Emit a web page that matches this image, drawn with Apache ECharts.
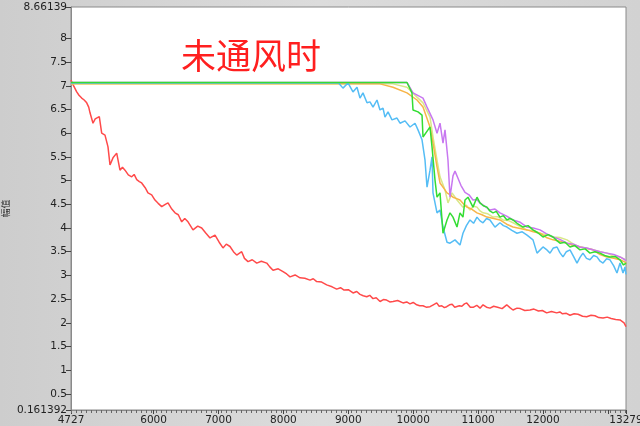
<!DOCTYPE html>
<html><head><meta charset="utf-8">
<script src="https://cdn.jsdelivr.net/npm/echarts@6/dist/echarts.min.js"></script>
<style>html,body{margin:0;padding:0;background:#d4d4d4}#c{width:640px;height:426px}</style>
</head><body><div id="c"></div>
<script>
var titleText = '未通风时';
var yName = '幅值';
var yTicks = [0.161392, 0.5, 1, 1.5, 2, 2.5, 3, 3.5, 4, 4.5, 5, 5.5, 6, 6.5, 7, 7.5, 8, 8.66139];
var xTicks = [4727, 6000, 7000, 8000, 9000, 10000, 11000, 12000, 13000, 13279];
var xLabels = [4727, 6000, 7000, 8000, 9000, 10000, 11000, 12000, 13279];

var redX = [4727,4760,4815,4850,4892,4930,4969,5000,5020,5066,5100,5123,5163,5200,5251,5297,5328,5374,5431,5482,5520,5559,5610,5662,5700,5740,5780,5816,5870,5913,5970,6021,6070,6125,6180,6222,6280,6330,6380,6433,6480,6530,6607,6680,6741,6800,6869,6946,7010,7069,7120,7177,7230,7280,7357,7400,7455,7520,7589,7660,7743,7790,7840,7920,7994,8050,8102,8180,8256,8330,8410,8460,8513,8590,8667,8750,8821,8880,8935,9000,9073,9130,9180,9230,9284,9330,9380,9430,9489,9540,9590,9640,9689,9760,9843,9900,9950,10000,10054,10100,10150,10200,10259,10310,10362,10400,10440,10480,10516,10560,10600,10640,10670,10710,10750,10790,10825,10880,10930,10980,11030,11076,11130,11184,11240,11300,11370,11441,11490,11538,11600,11650,11720,11800,11860,11930,11990,12057,12130,12211,12260,12300,12360,12416,12480,12540,12610,12673,12740,12800,12860,12925,12990,13050,13120,13187,13249,13279];
var redY = [7.12,7.02,6.87,6.80,6.74,6.70,6.64,6.55,6.43,6.21,6.30,6.28,6.35,6.00,5.96,5.71,5.33,5.48,5.58,5.22,5.28,5.22,5.12,5.08,5.13,5.02,4.98,4.95,4.85,4.74,4.70,4.59,4.52,4.45,4.50,4.53,4.40,4.32,4.28,4.13,4.20,4.13,3.96,4.04,4.00,3.90,3.79,3.85,3.70,3.58,3.66,3.61,3.50,3.43,3.50,3.36,3.29,3.33,3.26,3.30,3.26,3.18,3.11,3.14,3.08,3.03,2.97,3.01,2.95,2.94,2.90,2.93,2.87,2.86,2.80,2.76,2.71,2.74,2.69,2.70,2.63,2.66,2.60,2.57,2.55,2.58,2.51,2.53,2.45,2.49,2.48,2.44,2.45,2.47,2.42,2.44,2.40,2.43,2.38,2.36,2.36,2.33,2.34,2.38,2.42,2.35,2.36,2.32,2.34,2.38,2.39,2.33,2.31,2.36,2.35,2.40,2.42,2.33,2.33,2.37,2.31,2.38,2.33,2.31,2.35,2.33,2.30,2.38,2.32,2.27,2.31,2.30,2.26,2.27,2.29,2.25,2.26,2.21,2.24,2.21,2.23,2.19,2.20,2.16,2.19,2.18,2.14,2.13,2.16,2.15,2.11,2.10,2.12,2.09,2.07,2.06,2.00,1.92];

var blueX = [4727,8850,8918,8995,9072,9134,9180,9226,9288,9334,9381,9442,9488,9535,9565,9612,9673,9750,9797,9874,9951,10028,10074,10136,10182,10213,10259,10290,10305,10367,10413,10459,10521,10567,10644,10721,10767,10820,10875,10930,10983,11030,11076,11130,11183,11260,11337,11390,11445,11520,11599,11680,11754,11846,11908,12000,12050,12108,12160,12216,12260,12308,12360,12416,12470,12524,12570,12616,12670,12724,12780,12832,12880,12925,12980,13032,13090,13140,13187,13233,13264,13279];
var blueY = [7.06,7.06,6.95,7.06,6.87,6.97,6.74,6.85,6.64,6.66,6.55,6.70,6.49,6.53,6.34,6.45,6.28,6.32,6.21,6.26,6.13,6.21,6.07,5.86,5.43,4.86,5.22,5.50,4.74,4.32,4.38,4.02,3.70,3.68,3.75,3.64,3.89,4.05,4.17,4.10,4.23,4.15,4.11,4.20,4.17,4.02,4.11,4.05,4.02,3.95,3.89,3.92,3.85,3.75,3.47,3.60,3.55,3.47,3.58,3.60,3.48,3.39,3.50,3.54,3.40,3.26,3.38,3.47,3.36,3.33,3.42,3.39,3.30,3.26,3.35,3.33,3.20,3.05,3.26,3.05,3.18,3.02];

var greenX = [4727,9904,9981,9997,10074,10136,10151,10228,10259,10290,10336,10367,10413,10459,10521,10567,10613,10675,10721,10767,10798,10844,10921,10983,11029,11080,11137,11180,11230,11280,11337,11390,11445,11490,11538,11600,11692,11770,11846,11920,12000,12080,12154,12210,12262,12340,12416,12490,12570,12650,12724,12800,12878,12950,13032,13110,13187,13240,13279];
var greenY = [7.07,7.07,6.85,6.49,6.45,6.38,5.92,6.07,6.13,5.71,5.01,4.65,4.74,3.89,4.17,4.32,4.23,4.02,4.32,4.23,4.59,4.65,4.44,4.65,4.53,4.47,4.44,4.36,4.32,4.35,4.23,4.26,4.17,4.20,4.17,4.10,4.02,4.05,3.96,3.90,3.81,3.86,3.81,3.74,3.68,3.70,3.60,3.63,3.54,3.56,3.47,3.50,3.47,3.42,3.39,3.40,3.33,3.22,3.26];

var purpleX = [4727,9904,9997,10151,10213,10305,10367,10413,10459,10490,10536,10567,10613,10644,10690,10735,10798,10860,10921,10980,11029,11100,11183,11260,11337,11440,11538,11650,11754,11850,11954,12050,12154,12260,12370,12470,12570,12670,12770,12880,12986,13090,13187,13264,13279];
var purpleY = [7.07,7.07,6.85,6.74,6.55,6.28,6.00,6.21,5.79,6.07,5.43,4.65,5.10,5.20,5.05,4.90,4.75,4.70,4.59,4.60,4.53,4.46,4.38,4.40,4.32,4.25,4.17,4.12,4.02,4.00,3.96,3.88,3.81,3.76,3.68,3.66,3.60,3.58,3.54,3.50,3.47,3.44,3.39,3.33,3.30];

var yellowX = [4727,9689,9904,10059,10151,10259,10305,10367,10413,10490,10536,10598,10675,10767,10820,10875,10930,10983,11030,11076,11150,11230,11300,11384,11460,11538,11650,11754,11850,11954,12050,12154,12260,12370,12470,12570,12670,12770,12880,12986,13090,13187,13264,13279];
var yellowY = [7.04,7.04,6.97,6.76,6.64,6.34,5.92,5.43,5.08,4.80,4.53,4.74,4.59,4.44,4.48,4.38,4.46,4.44,4.36,4.32,4.30,4.23,4.24,4.17,4.16,4.11,4.03,3.96,3.95,3.89,3.86,3.81,3.80,3.75,3.66,3.60,3.58,3.54,3.50,3.47,3.40,3.39,3.33,3.28];

var orangeX = [4727,9488,9689,9904,10059,10151,10259,10305,10367,10413,10470,10521,10570,10613,10670,10721,10780,10829,10900,10983,11060,11137,11240,11337,11440,11538,11650,11754,11850,11954,12050,12154,12260,12370,12470,12570,12670,12770,12880,12986,13090,13187,13264,13279];
var orangeY = [7.04,7.04,6.97,6.85,6.70,6.55,6.13,5.79,5.29,4.95,4.84,4.74,4.70,4.65,4.62,4.59,4.50,4.44,4.40,4.32,4.28,4.23,4.20,4.17,4.08,4.02,3.99,3.96,3.92,3.89,3.80,3.75,3.72,3.68,3.63,3.60,3.57,3.54,3.44,3.39,3.36,3.33,3.28,3.24];

function pairs(xs, ys) { return xs.map(function (x, i) { return [x, ys[i]]; }); }
var minorTicks = [];
for (var t = 4727; t <= 13279; t += 77) minorTicks.push(t);

function line(name, xs, ys, color) {
  return { name: name, type: 'line', data: pairs(xs, ys), showSymbol: false, symbol: 'none',
    lineStyle: { color: color, width: 1.5 }, itemStyle: { color: color }, animation: false };
}

var chart = echarts.init(document.getElementById('c'));
var labelFont = { fontFamily: 'DejaVu Sans', fontSize: 10.5, color: '#222' };
function raw(v) { return String(v); }
chart.setOption({
  backgroundColor: {
    type: 'linear', x: 0, y: 0, x2: 1, y2: 0,
    colorStops: [{ offset: 0, color: '#cdcdcd' }, { offset: 0.5, color: '#dcdcdc' }, { offset: 1, color: '#d2d2d2' }]
  },
  title: { text: titleText, left: 176, top: 33,
    textStyle: { color: '#ff1f1f', fontSize: 35, fontWeight: 'normal', fontFamily: 'Noto Sans CJK SC' } },
  grid: { left: 71, right: 14, top: 7, bottom: 16, containLabel: false, outerBoundsMode: 'none',
    show: true, backgroundColor: '#ffffff', borderColor: '#8a8a8a', borderWidth: 1 },
  xAxis: [{
    type: 'value', min: 4727, max: 13279,
    axisLine: { show: true, lineStyle: { color: '#8a8a8a' } },
    axisTick: { show: true, length: 4, lineStyle: { color: '#444' }, customValues: xTicks },
    axisLabel: Object.assign({ customValues: xLabels, margin: 5, formatter: raw, hideOverlap: false, showMinLabel: true, showMaxLabel: true }, labelFont),
    splitLine: { show: false }
  }, {
    type: 'value', min: 4727, max: 13279, position: 'bottom',
    axisLine: { show: false },
    axisTick: { show: true, length: 3, lineStyle: { color: '#666' }, customValues: minorTicks },
    axisLabel: { show: false },
    splitLine: { show: false }
  }],
  yAxis: {
    type: 'value', min: 0.161392, max: 8.66139,
    name: yName, nameLocation: 'middle', nameGap: 61, nameRotate: 90, nameMoveOverlap: false,
    nameTextStyle: { fontSize: 9, color: '#333', fontFamily: 'Noto Sans CJK SC' },
    axisLine: { show: true, lineStyle: { color: '#8a8a8a' } },
    axisTick: { show: true, length: 5, lineStyle: { color: '#444' }, customValues: yTicks },
    axisLabel: Object.assign({ customValues: yTicks, margin: 4, formatter: raw, hideOverlap: false, showMinLabel: true, showMaxLabel: true }, labelFont),
    splitLine: { show: false }
  },
  series: [
    line('red', redX, redY, '#ff4a4a'),
    line('yellow', yellowX, yellowY, '#d9e888'),
    line('orange', orangeX, orangeY, '#f7b548'),
    line('purple', purpleX, purpleY, '#c878f0'),
    line('blue', blueX, blueY, '#55bdf5'),
    line('green', greenX, greenY, '#33dd33')
  ]
});
</script></body></html>
